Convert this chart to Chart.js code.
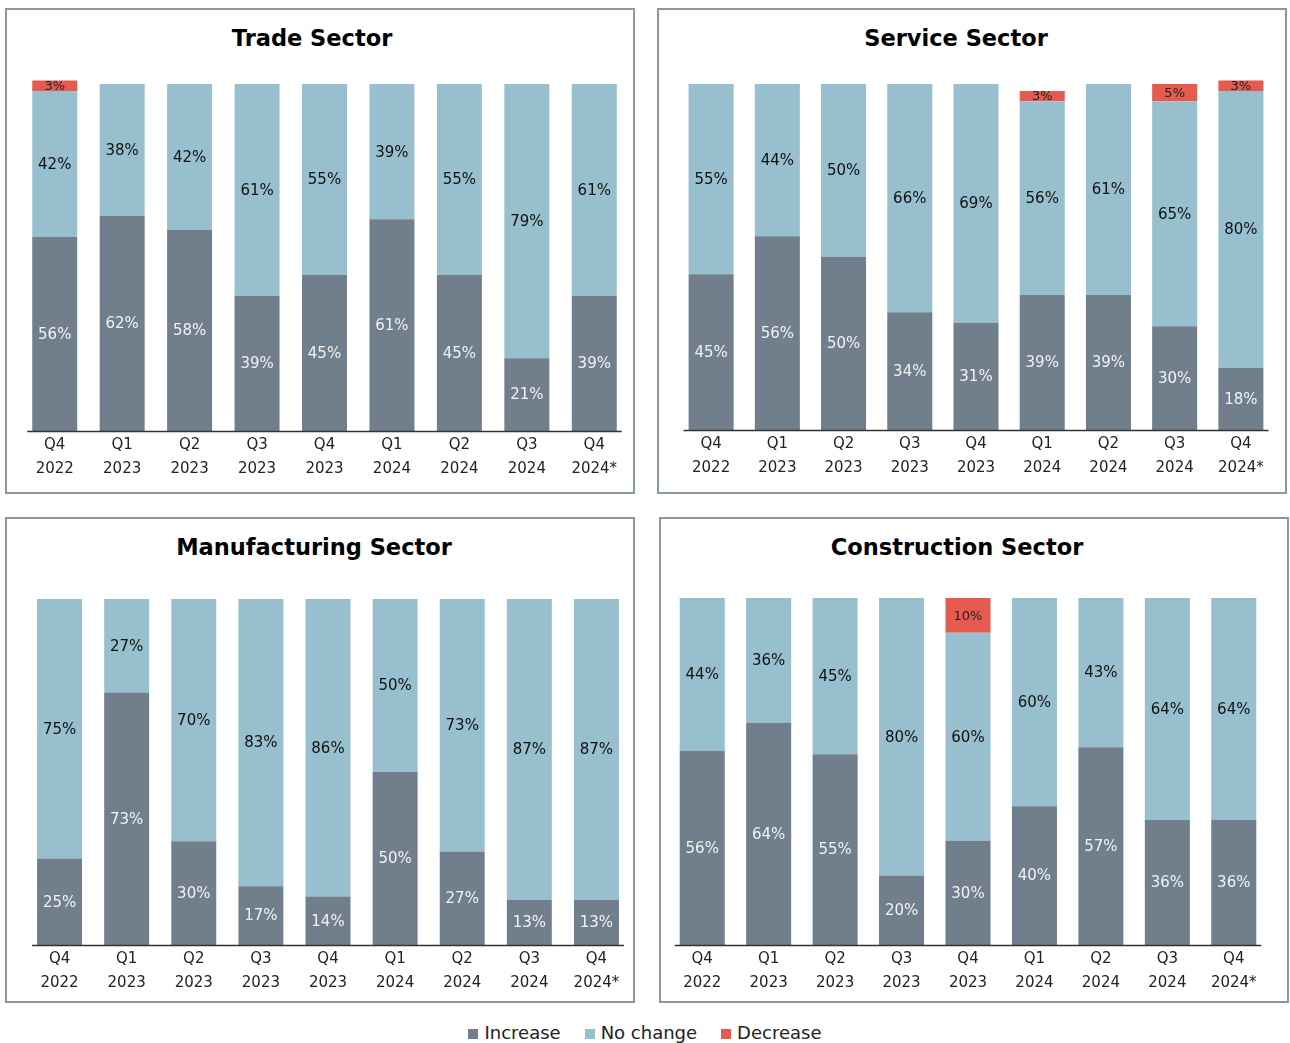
<!DOCTYPE html>
<html>
<head>
<meta charset="utf-8">
<script src="https://cdn.jsdelivr.net/npm/chart.js@4/dist/chart.umd.min.js"></script>
<style>
  body { margin: 0; background: #fff; font-family: "DejaVu Sans", Verdana, sans-serif; }
  .box { position: absolute; border: 2px solid #8b97a3; width: 626px; height: 482px; }
  .box canvas { position: absolute; left: 0; top: 0; }
  .title { position: absolute; font-weight: bold; font-size: 22.5px; color: #000; white-space: nowrap; transform: translateX(-50%); }
  #legend { position: absolute; left: 0; width: 1290px; top: 1022px; display: flex; justify-content: center; font-size: 18px; color: #222; }
  #legend span.item { margin: 0 12px; display: flex; align-items: center; }
  #legend i { display: inline-block; width: 10px; height: 10px; margin-right: 6px; margin-top: 2px; }
</style>
</head>
<body>
<div id="legend"></div>

<script>
// quarters on the x axis
const quarters = [['Q4','2022'],['Q1','2023'],['Q2','2023'],['Q3','2023'],['Q4','2023'],
                  ['Q1','2024'],['Q2','2024'],['Q3','2024'],['Q4','2024*']];
const seriesNames = ['Increase', 'No change', 'Decrease'];
const seriesColors = ['#717f8c', '#97bfcd', '#e65b50'];

// Trade sector
const tradeIncrease = [56, 62, 58, 39, 45, 61, 45, 21, 39];
const tradeNoChange = [42, 38, 42, 61, 55, 39, 55, 79, 61];
const tradeDecrease = [3, 0, 0, 0, 0, 0, 0, 0, 0];
// Service sector
const serviceIncrease = [45, 56, 50, 34, 31, 39, 39, 30, 18];
const serviceNoChange = [55, 44, 50, 66, 69, 56, 61, 65, 80];
const serviceDecrease = [0, 0, 0, 0, 0, 3, 0, 5, 3];
// Manufacturing sector
const manufIncrease = [25, 73, 30, 17, 14, 50, 27, 13, 13];
const manufNoChange = [75, 27, 70, 83, 86, 50, 73, 87, 87];
const manufDecrease = [0, 0, 0, 0, 0, 0, 0, 0, 0];
// Construction sector
const constrIncrease = [56, 64, 55, 20, 30, 40, 57, 36, 36];
const constrNoChange = [44, 36, 45, 80, 60, 60, 43, 64, 64];
const constrDecrease = [0, 0, 0, 0, 10, 0, 0, 0, 0];

// labels inside the bar pieces + short baseline
const barLabels = {
    id: 'barLabels',
    afterDatasetsDraw(chart) {
        const ctx = chart.ctx;
        ctx.save();
        // baseline just a little wider than the bars
        const bars = chart.getDatasetMeta(0).data;
        const first = bars[0], last = bars[bars.length - 1];
        ctx.strokeStyle = '#333';
        ctx.lineWidth = 1.5;
        ctx.beginPath();
        ctx.moveTo(first.x - first.width / 2 - 5, chart.chartArea.bottom + 0.5);
        ctx.lineTo(last.x + last.width / 2 + 5, chart.chartArea.bottom + 0.5);
        ctx.stroke();

        ctx.textAlign = 'center';
        ctx.textBaseline = 'middle';
        chart.data.datasets.forEach((ds, di) => {
            const meta = chart.getDatasetMeta(di);
            meta.data.forEach((bar, i) => {
                const v = ds.data[i];
                if (!v) return;
                if (di == 2) {
                    ctx.font = '13px "DejaVu Sans"';
                    ctx.fillStyle = '#222';
                } else {
                    ctx.font = '15px "DejaVu Sans"';
                    ctx.fillStyle = di == 0 ? '#f2f2f2' : '#111';
                }
                ctx.fillText(v + '%', bar.x, (bar.y + bar.base) / 2 + 1);
            });
        });
        ctx.restore();
    }
};

function makeBox(id, title, left, top, titleX, pad, barPct, inc, noch, dec) {
    const box = document.createElement('div');
    box.className = 'box';
    box.style.left = left + 'px';
    box.style.top = top + 'px';
    const t = document.createElement('div');
    t.className = 'title';
    t.textContent = title;
    t.style.left = (titleX - left - 2) + 'px';
    t.style.top = '15px';
    box.appendChild(t);
    const cv = document.createElement('canvas');
    cv.id = id;
    cv.width = 626;
    cv.height = 482;
    box.appendChild(cv);
    document.body.appendChild(box);

    const values = [inc, noch, dec];
    new Chart(cv.getContext('2d'), {
        type: 'bar',
        data: {
            labels: quarters,
            datasets: values.map((d, k) => ({
                label: seriesNames[k],
                data: d,
                backgroundColor: seriesColors[k],
                borderWidth: 0,
                barPercentage: barPct,
                categoryPercentage: 1,
                clip: false
            }))
        },
        options: {
            responsive: false,
            animation: false,
            layout: { padding: pad },
            plugins: {
                legend: { display: false },
                tooltip: { enabled: false }
            },
            scales: {
                x: {
                    stacked: true,
                    grid: { display: false, drawTicks: false },
                    border: { display: false },
                    ticks: {
                        padding: 2,
                        color: '#222',
                        maxRotation: 0,
                        autoSkip: false,
                        font: { family: 'DejaVu Sans', size: 15, lineHeight: 1.6 }
                    }
                },
                y: {
                    stacked: true,
                    display: false,
                    min: 0,
                    max: 100
                }
            }
        },
        plugins: [barLabels]
    });
}

makeBox('trade', 'Trade Sector', 5, 8, 312,
        { top: 74, bottom: 9, left: 14, right: 5 }, 0.667,
        tradeIncrease, tradeNoChange, tradeDecrease);
makeBox('service', 'Service Sector', 657, 8, 956,
        { top: 74, bottom: 10, left: 19, right: 11 }, 0.68,
        serviceIncrease, serviceNoChange, serviceDecrease);
makeBox('manuf', 'Manufacturing Sector', 5, 517, 314,
        { top: 80, bottom: 4, left: 19, right: 3 }, 0.67,
        manufIncrease, manufNoChange, manufDecrease);
makeBox('constr', 'Construction Sector', 659, 517, 957,
        { top: 79, bottom: 4, left: 8, right: 20 }, 0.678,
        constrIncrease, constrNoChange, constrDecrease);

// shared legend
const lg = document.getElementById('legend');
seriesNames.forEach((n, k) => {
    const s = document.createElement('span');
    s.className = 'item';
    s.innerHTML = '<i style="background:' + seriesColors[k] + '"></i>' + n;
    lg.appendChild(s);
});
</script>
</body>
</html>
